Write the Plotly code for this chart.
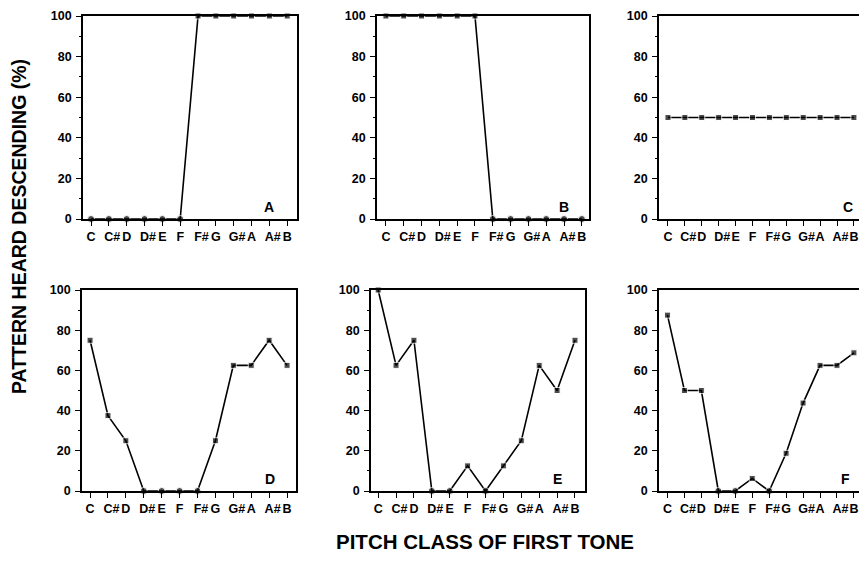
import plotly.graph_objects as go

pitch_classes = ["C", "C#", "D", "D#", "E", "F", "F#", "G", "G#", "A", "A#", "B"]

panel_a = [0, 0, 0, 0, 0, 0, 100, 100, 100, 100, 100, 100]
panel_b = [100, 100, 100, 100, 100, 100, 0, 0, 0, 0, 0, 0]
panel_c = [50, 50, 50, 50, 50, 50, 50, 50, 50, 50, 50, 50]
panel_d = [75, 37.5, 25, 0, 0, 0, 0, 25, 62.5, 62.5, 75, 62.5]
panel_e = [100, 62.5, 75, 0, 0, 12.5, 0, 12.5, 25, 62.5, 50, 75]
panel_f = [87.5, 50, 50, 0, 0, 6.25, 0, 18.75, 43.75, 62.5, 62.5, 68.75]

panel_letters = ["A", "B", "C", "D", "E", "F"]
y_ticks = [0, 20, 40, 60, 80, 100]

series = [panel_a, panel_b, panel_c, panel_d, panel_e, panel_f]

W, H = 851, 553
OFF = 8  # page body margin offset of the rendered figure
# plot-area pixel boxes in screen coords (left, right, top, bottom) and x ranges
boxes = [
    (83, 297, 16, 219, [-0.45, 11.55]),
    (377, 589, 16, 219, [-0.5, 11.4]),
    (659, 859, 16, 219, [-0.53, 11.3]),
    (82, 296, 290, 491, [-0.45, 11.5]),
    (371, 585, 290, 491, [-0.4, 11.56]),
    (659, 859, 290, 491, [-0.5, 11.3]),
]
cut_right = [False, False, True, False, False, True]
letter_pos = [10, 10, 10.65, 10.05, 10.0, 10.5]

font_family = "Liberation Sans, Arial, Helvetica, sans-serif"
ticktext = [("\u00a0\u00a0" + p) if "#" in p else p for p in pitch_classes]

fig = go.Figure()
layout = dict(
    width=W, height=H,
    margin=dict(l=0, r=0, t=0, b=0, autoexpand=False),
    paper_bgcolor="white", plot_bgcolor="white",
    showlegend=False,
    font=dict(family=font_family, color="black"),
)
annotations = []


def px_x(v):
    return (v - OFF) / W


def px_y(v):
    return 1 - (v - OFF) / H


for i, (vals, letter, box) in enumerate(zip(series, panel_letters, boxes)):
    l, r, t, b, xr = box
    idx = "" if i == 0 else str(i + 1)
    xa, ya = "x" + idx, "y" + idx
    symbols = ["circle" if v == 0 else "square" for v in vals]
    sizes = [7 if v == 0 else 6 for v in vals]
    fig.add_trace(go.Scatter(
        x=list(range(len(pitch_classes))), y=vals,
        mode="lines+markers",
        line=dict(color="black", width=1.6),
        marker=dict(color="black", symbol=symbols, size=sizes),
        cliponaxis=False,
        xaxis=xa, yaxis=ya,
    ))
    layout["xaxis" + idx] = dict(
        domain=[max(0, px_x(l)), min(1, px_x(r))], anchor=ya, range=xr,
        tickmode="array", tickvals=list(range(len(pitch_classes))), ticktext=ticktext,
        tickangle=0, automargin=False,
        ticks="outside", ticklen=5, tickwidth=1.3, tickcolor="black",
        showline=True, linecolor="black", linewidth=1.6, mirror=True,
        showgrid=False, zeroline=False, fixedrange=True,
        tickfont=dict(family=font_family, size=12.5, color="black", weight="bold"),
    )
    layout["yaxis" + idx] = dict(
        domain=[px_y(b), px_y(t)], anchor=xa, range=[0, 100],
        tickmode="array", tickvals=y_ticks, automargin=False,
        ticks="outside", ticklen=5, tickwidth=1.3, tickcolor="black",
        ticklabelstandoff=2,
        minor=dict(tickmode="linear", tick0=10, dtick=20, ticks="outside",
                   ticklen=2, tickwidth=1, tickcolor="black", showgrid=False),
        showline=True, linecolor="black", linewidth=1.6,
        mirror=not cut_right[i],
        showgrid=False, zeroline=False, fixedrange=True,
        tickfont=dict(family=font_family, size=12.5, color="black", weight="bold"),
    )
    annotations.append(dict(
        x=letter_pos[i], y=6, xref=xa, yref=ya, text="<b>%s</b>" % letter,
        showarrow=False, font=dict(family=font_family, size=14, color="black"),
        xanchor="center", yanchor="middle",
    ))

annotations.append(dict(
    x=px_x(19), y=px_y(227), xref="paper", yref="paper",
    text="<b>PATTERN HEARD DESCENDING (%)</b>", textangle=-90,
    showarrow=False, font=dict(family=font_family, size=19.5, color="black"),
    xanchor="center", yanchor="middle",
))
annotations.append(dict(
    x=px_x(485), y=px_y(541), xref="paper", yref="paper",
    text="<b>PITCH CLASS OF FIRST TONE</b>",
    showarrow=False, font=dict(family=font_family, size=20.5, color="black"),
    xanchor="center", yanchor="middle",
))
layout["annotations"] = annotations

fig.update_layout(**layout)
fig.write_html("out.html")
